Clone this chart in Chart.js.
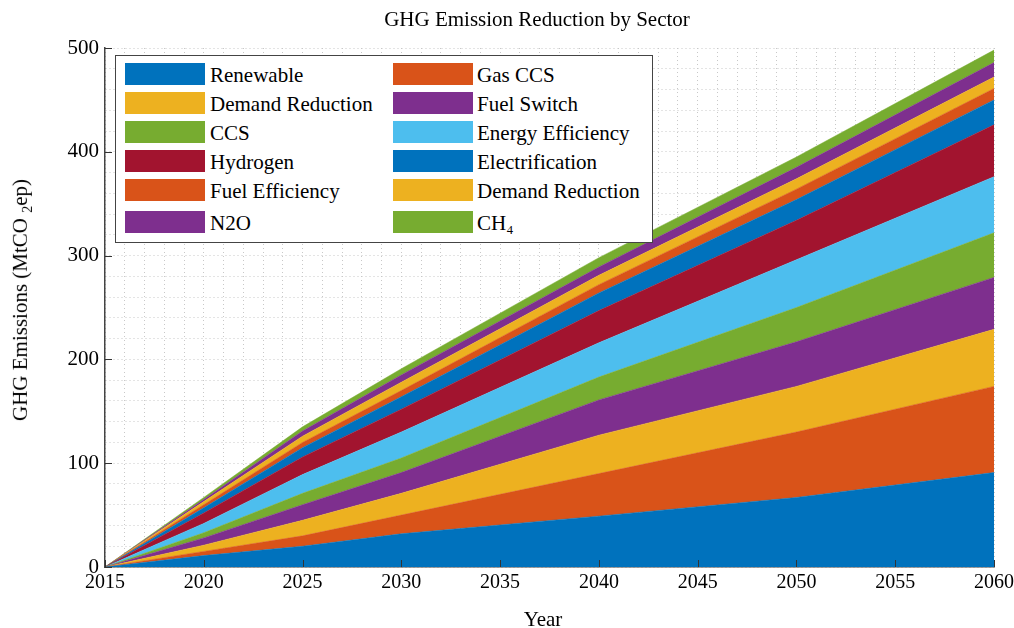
<!DOCTYPE html>
<html>
<head>
<meta charset="utf-8">
<script src="https://cdn.jsdelivr.net/npm/chart.js@4.4.1/dist/chart.umd.min.js"></script>
<style>
  html, body { margin: 0; padding: 0; background: #fff; }
  #wrap { position: relative; width: 1014px; height: 628px; font-family: "Liberation Serif", "Times New Roman", serif; color: #000; }
  #c { position: absolute; left: 0; top: 0; }
  .txt { position: absolute; white-space: nowrap; }
  #title { left: 537px; top: 7px; transform: translateX(-50%); font-size: 21px; }
  #ytitle { left: 22px; top: 300px; transform: translate(-50%, -50%) rotate(-90deg); font-size: 21px; }
  #xtitle { left: 543px; top: 607px; transform: translateX(-50%); font-size: 21px; }
  #legend { position: absolute; left: 115px; top: 55px; width: 536px; height: 186px; border: 1.5px solid #444; background: #fff; }
  .sw { position: absolute; width: 80px; height: 22px; }
  .lt { position: absolute; font-size: 21px; line-height: 22px; white-space: nowrap; }
</style>
</head>
<body>
<div id="wrap">
  <canvas id="c" width="1014" height="628"></canvas>
  <div class="txt" id="title">GHG Emission Reduction by Sector</div>
  <div class="txt" id="ytitle">GHG Emissions (MtCO <sub style="font-size:14px">2</sub>ep)</div>
  <div class="txt" id="xtitle">Year</div>
  <div id="legend"></div>
</div>
<script>
// ---- data (stack order bottom -> top) ----
const years = [2015, 2020, 2025, 2030, 2040, 2050, 2060];
const renewable        = [0, 11, 20, 32, 49, 67, 91];
const gasCCS           = [0, 4, 10, 18, 41, 63, 83];
const demandReduction  = [0, 6, 15, 21, 37, 44, 55];
const fuelSwitch       = [0, 7, 15, 20, 34, 43, 50];
const ccs              = [0, 5, 11, 14, 22, 33, 43];
const energyEfficiency = [0, 9, 18, 25, 33, 46, 54];
const hydrogen         = [0, 10, 17, 22, 31, 38, 50];
const electrification  = [0, 5, 9, 12, 17, 20, 24];
const fuelEfficiency   = [0, 3, 5, 6, 8, 10, 11];
const demandReduction2 = [0, 3, 6, 8, 9, 10, 11];
const n2o              = [0, 2, 5, 7, 8, 11, 14];
const ch4              = [0, 2, 4, 6, 9, 10, 12];

const seriesLabels = ["Renewable", "Gas CCS", "Demand Reduction", "Fuel Switch", "CCS", "Energy Efficiency",
                      "Hydrogen", "Electrification", "Fuel Efficiency", "Demand Reduction", "N2O", "CH\u2084"];
const seriesValues = [renewable, gasCCS, demandReduction, fuelSwitch, ccs, energyEfficiency,
                      hydrogen, electrification, fuelEfficiency, demandReduction2, n2o, ch4];
const yTickLabels = [0, 100, 200, 300, 400, 500];
const xTickLabels = [2015, 2020, 2025, 2030, 2035, 2040, 2045, 2050, 2055, 2060];

// ---- styles ----
const colors = ["#0072BD", "#D95319", "#EDB120", "#7E2F8E", "#77AC30", "#4DBEEE",
                "#A2142F", "#0072BD", "#D95319", "#EDB120", "#7E2F8E", "#77AC30"];
const FONT = "Liberation Serif";

const datasets = seriesValues.map((vals, i) => ({
  label: seriesLabels[i],
  data: years.map((yr, k) => ({ x: yr, y: vals[k] })),
  backgroundColor: colors[i],
  borderColor: colors[i],
  borderWidth: 0.5,
  pointRadius: 0,
  tension: 0,
  fill: i === 0 ? 'origin' : '-1'
}));

const tickMarks = {
  id: 'tickMarks',
  afterDatasetsDraw(chart) {
    const { ctx, chartArea: a, scales: { x, y } } = chart;
    ctx.save();
    ctx.strokeStyle = '#333';
    ctx.lineWidth = 1;
    ctx.beginPath();
    xTickLabels.forEach(v => {
      const px = Math.round(x.getPixelForValue(v)) + 0.5;
      ctx.moveTo(px, a.bottom); ctx.lineTo(px, a.bottom - 7);
    });
    yTickLabels.forEach(v => {
      const py = Math.round(y.getPixelForValue(v)) + 0.5;
      ctx.moveTo(a.left, py); ctx.lineTo(a.left + 7, py);
    });
    ctx.stroke();
    ctx.restore();
  }
};

const gridStyle = { drawTicks: false, color: '#c8c8c8', lineWidth: 1 };

new Chart(document.getElementById('c'), {
  type: 'line',
  data: { datasets },
  plugins: [tickMarks],
  options: {
    responsive: false,
    animation: false,
    layout: { padding: { left: 0, right: 20, top: 48, bottom: 0 } },
    plugins: { legend: { display: false }, title: { display: false }, tooltip: { enabled: false } },
    scales: {
      x: {
        type: 'linear', min: 2015, max: 2060,
        ticks: {
          stepSize: 1, autoSkip: false, maxRotation: 0, padding: 4,
          color: '#000', font: { family: FONT, size: 20 },
          callback: v => xTickLabels.includes(v) ? String(v) : ''
        },
        grid: gridStyle,
        border: { display: true, color: '#444', width: 1.5, dash: [1, 3] },
        afterFit(s) { s.height = 61; s.paddingLeft = 0; s.paddingRight = 0; }
      },
      y: {
        stacked: true, min: 0, max: 500,
        ticks: {
          stepSize: 20, autoSkip: false, padding: 6,
          color: '#000', font: { family: FONT, size: 21 },
          callback: v => yTickLabels.includes(v) ? String(v) : ''
        },
        grid: gridStyle,
        border: { display: true, color: '#444', width: 1.5, dash: [1, 3] },
        afterFit(s) { s.width = 105; s.paddingTop = 0; s.paddingBottom = 0; }
      }
    }
  }
});

// ---- legend (two columns, column-major as in the reference) ----
const legendCols = [[0, 2, 4, 6, 8, 10], [1, 3, 5, 7, 9, 11]];
const leg = document.getElementById('legend');
legendCols.forEach((col, c) => {
  col.forEach((idx, r) => {
    const top = 7 + r * 29 + (r === 5 ? 3 : 0);
    const sw = document.createElement('div');
    sw.className = 'sw';
    sw.style.left = (c === 0 ? 9 : 277) + 'px';
    sw.style.top = top + 'px';
    sw.style.background = colors[idx];
    leg.appendChild(sw);
    const t = document.createElement('div');
    t.className = 'lt';
    t.style.left = (c === 0 ? 94 : 361) + 'px';
    t.style.top = (top + 1) + 'px';
    t.textContent = seriesLabels[idx];
    leg.appendChild(t);
  });
});
</script>
</body>
</html>
